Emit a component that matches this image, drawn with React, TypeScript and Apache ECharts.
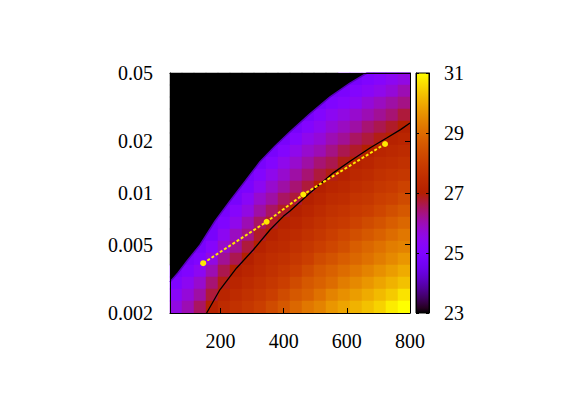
import React, { useEffect, useRef } from "react";
import * as echarts from "echarts";

// ---- data ----
const X_MIN = 40;
const X_MAX = 800;
const Y_MIN = 0.002;
const Y_MAX = 0.05;
const V_MIN = 23;
const V_MAX = 31;

const xTicks = [200, 400, 600, 800];
const yTicks = [0.002, 0.005, 0.01, 0.02, 0.05];
const cbTicks = [23, 25, 27, 29, 31];

// heatmap cell centres
const xCenters = [59, 97, 135, 173, 211, 249, 287, 325, 363, 401, 439, 477, 515, 553, 591, 629, 667, 705, 743, 781];
// bottom to top
const yCenters = [0.00217, 0.00255, 0.00299, 0.00351, 0.00413, 0.00485, 0.00569, 0.00669, 0.00785, 0.00922,
  0.0108, 0.0127, 0.0149, 0.0176, 0.0206, 0.0242, 0.0285, 0.0334, 0.0393, 0.0461];

// field values, rows from top (y = 0.05) to bottom (y = 0.002)
const fieldRows: number[][] = [
  [23, 23, 23, 23, 23, 23, 23, 23, 23, 23, 23, 23, 23, 23, 24.8, 24.8, 25.0, 25.2, 25.4, 25.6],
  [23, 23, 23, 23, 23, 23, 23, 23, 23, 23, 23, 23, 23, 24.8, 24.9, 25.1, 25.3, 25.5, 25.7, 26.0],
  [23, 23, 23, 23, 23, 23, 23, 23, 23, 23, 23, 24.8, 24.8, 25.0, 25.2, 25.4, 25.7, 25.9, 26.1, 26.3],
  [23, 23, 23, 23, 23, 23, 23, 23, 23, 23, 24.8, 24.8, 25.1, 25.4, 25.6, 25.8, 26.0, 26.2, 26.4, 26.7],
  [23, 23, 23, 23, 23, 23, 23, 23, 23, 24.8, 24.8, 25.1, 25.4, 25.7, 25.9, 26.1, 26.4, 26.6, 26.8, 27.0],
  [23, 23, 23, 23, 23, 23, 23, 23, 24.8, 24.8, 25.1, 25.5, 25.7, 26.0, 26.2, 26.5, 26.7, 26.9, 27.1, 27.2],
  [23, 23, 23, 23, 23, 23, 23, 24.8, 24.8, 25.1, 25.5, 25.8, 26.0, 26.3, 26.6, 26.8, 27.0, 27.2, 27.3, 27.4],
  [23, 23, 23, 23, 23, 23, 23, 24.8, 25.1, 25.5, 25.8, 26.1, 26.4, 26.6, 26.9, 27.1, 27.2, 27.4, 27.5, 27.6],
  [23, 23, 23, 23, 23, 23, 24.8, 25.1, 25.5, 25.8, 26.1, 26.4, 26.7, 26.9, 27.1, 27.3, 27.4, 27.6, 27.7, 27.8],
  [23, 23, 23, 23, 23, 24.8, 24.9, 25.4, 25.8, 26.1, 26.4, 26.7, 27.0, 27.2, 27.3, 27.5, 27.6, 27.8, 27.9, 28.1],
  [23, 23, 23, 23, 24.8, 24.8, 25.3, 25.8, 26.1, 26.5, 26.7, 27.0, 27.2, 27.4, 27.5, 27.7, 27.8, 28.0, 28.1, 28.3],
  [23, 23, 23, 23, 24.8, 25.2, 25.6, 26.1, 26.5, 26.8, 27.0, 27.2, 27.4, 27.6, 27.7, 27.9, 28.0, 28.2, 28.4, 28.6],
  [23, 23, 23, 24.8, 25.0, 25.5, 26.0, 26.5, 26.8, 27.1, 27.2, 27.4, 27.6, 27.8, 27.9, 28.1, 28.3, 28.5, 28.7, 28.9],
  [23, 23, 24.8, 24.8, 25.4, 25.9, 26.3, 26.8, 27.1, 27.3, 27.4, 27.6, 27.8, 28.0, 28.2, 28.4, 28.6, 28.8, 29.0, 29.2],
  [23, 24.8, 24.8, 25.2, 25.8, 26.2, 26.7, 27.1, 27.3, 27.4, 27.6, 27.8, 28.0, 28.2, 28.4, 28.7, 28.9, 29.1, 29.3, 29.4],
  [23, 24.8, 25.0, 25.6, 26.2, 26.6, 27.0, 27.3, 27.5, 27.6, 27.8, 28.0, 28.3, 28.5, 28.7, 28.9, 29.1, 29.3, 29.5, 29.7],
  [24.8, 25.0, 25.4, 26.0, 26.6, 27.0, 27.2, 27.4, 27.6, 27.8, 28.0, 28.3, 28.6, 28.8, 29.0, 29.2, 29.4, 29.6, 29.8, 30.0],
  [25.0, 25.4, 25.8, 26.4, 26.9, 27.2, 27.4, 27.6, 27.8, 28.0, 28.3, 28.6, 28.8, 29.0, 29.3, 29.5, 29.7, 29.9, 30.1, 30.3],
  [25.3, 25.7, 26.1, 26.7, 27.2, 27.4, 27.6, 27.8, 28.0, 28.3, 28.6, 28.8, 29.1, 29.4, 29.6, 29.8, 30.0, 30.2, 30.4, 30.7],
  [25.6, 26.0, 26.5, 27.1, 27.4, 27.6, 27.8, 28.0, 28.3, 28.6, 28.9, 29.2, 29.4, 29.7, 29.9, 30.1, 30.3, 30.5, 30.8, 31.0],
];

// edge of the black (undefined) region
const boundaryX = [40, 65, 94, 135, 183, 230, 278, 325, 373, 420, 483, 547, 610, 664, 800];
const boundaryY = [0.00303, 0.00342, 0.00402, 0.00498, 0.00687, 0.00898, 0.0117, 0.0152, 0.0188, 0.0227, 0.0289, 0.0363, 0.0437, 0.05, 0.05];

// black contour line
const contourX = [156, 198, 251, 304, 357, 399, 420, 483, 557, 610, 673, 726, 770, 800];
const contourY = [0.002, 0.00273, 0.00366, 0.00467, 0.00611, 0.00731, 0.00785, 0.01, 0.0131, 0.0153, 0.0183, 0.0209, 0.0234, 0.0256];

// yellow dotted path
const pathX = [145, 346, 462, 721];
const pathY = [0.0039, 0.0068, 0.0098, 0.0193];

// ---- styling helpers ----
const FONT = "Liberation Serif";
const lg = (v: number) => Math.log10(v);

function gnuplotColor(f: number): string {
  const r = Math.sqrt(f);
  const g = f * f * f;
  const b = Math.max(0, Math.sin(2 * Math.PI * f));
  return `rgb(${Math.round(r * 255)},${Math.round(g * 255)},${Math.round(b * 255)})`;
}
const N_STOPS = 48;
const palette = Array.from({ length: N_STOPS + 1 }, (_, i) => gnuplotColor(i / N_STOPS));

export default function App() {
  const ref = useRef<HTMLDivElement>(null);

  useEffect(() => {
    if (!ref.current) return;
    const chart = echarts.init(ref.current, undefined, { renderer: "svg" });

    const heatData: number[][] = [];
    const nRows = fieldRows.length;
    fieldRows.forEach((row, r) => {
      row.forEach((v, c) => heatData.push([c, nRows - 1 - r, v]));
    });

    const yLabel = (v: number) => {
      const t = yTicks.find((tv) => Math.abs(lg(tv) - v) < 1e-6);
      return t === undefined ? "" : String(t);
    };

    const axisLine = { show: true, lineStyle: { color: "#000", width: 1 } };
    const labelStyle = { fontFamily: FONT, fontSize: 20, color: "#000" };

    const option: any = {
      animation: false,
      backgroundColor: "#fff",
      grid: [
        { left: 162, top: 65, width: 240, height: 240, outerBoundsMode: "none" },
        { left: 408, top: 65, width: 13, height: 240, outerBoundsMode: "none" },
      ],
      visualMap: {
        type: "continuous",
        show: false,
        min: V_MIN,
        max: V_MAX,
        dimension: 2,
        seriesIndex: 0,
        inRange: { color: palette },
      },
      xAxis: [
        { type: "category", gridIndex: 0, data: xCenters.map(String), show: false },
        {
          type: "value", gridIndex: 0, min: X_MIN, max: X_MAX, position: "bottom", z: 10,
          axisLine,
          axisTick: { show: true, inside: true, length: 5, customValues: xTicks, lineStyle: { color: "#000" } },
          axisLabel: { customValues: xTicks, ...labelStyle, margin: 18 },
          splitLine: { show: false },
        },
        {
          type: "value", gridIndex: 0, min: X_MIN, max: X_MAX, position: "top", z: 10,
          axisLine,
          axisTick: { show: true, inside: true, length: 5, customValues: xTicks, lineStyle: { color: "#000" } },
          axisLabel: { show: false },
          splitLine: { show: false },
        },
        { type: "category", gridIndex: 1, data: ["cb"], show: false },
      ],
      yAxis: [
        { type: "category", gridIndex: 0, data: yCenters.map(String), show: false },
        {
          type: "value", gridIndex: 0, min: lg(Y_MIN), max: lg(Y_MAX), position: "left", z: 10,
          axisLine,
          axisTick: { show: true, inside: true, length: 5, customValues: yTicks.map(lg), lineStyle: { color: "#000" } },
          axisLabel: { customValues: yTicks.map(lg), formatter: yLabel, ...labelStyle, margin: 17 },
          splitLine: { show: false },
        },
        {
          type: "value", gridIndex: 0, min: lg(Y_MIN), max: lg(Y_MAX), position: "right", z: 10,
          axisLine,
          axisTick: { show: true, inside: true, length: 5, customValues: yTicks.map(lg), lineStyle: { color: "#000" } },
          axisLabel: { show: false },
          splitLine: { show: false },
        },
        {
          type: "value", gridIndex: 1, min: V_MIN, max: V_MAX, position: "right", z: 10,
          axisLine,
          axisTick: { show: true, inside: true, length: 3, customValues: cbTicks, lineStyle: { color: "#000" } },
          axisLabel: { customValues: cbTicks, ...labelStyle, margin: 15 },
          splitLine: { show: false },
        },
        {
          type: "value", gridIndex: 1, min: V_MIN, max: V_MAX, position: "left", z: 10,
          axisLine,
          axisTick: { show: true, inside: true, length: 3, customValues: cbTicks, lineStyle: { color: "#000" } },
          axisLabel: { show: false },
          splitLine: { show: false },
        },
      ],
      series: [
        {
          type: "heatmap",
          xAxisIndex: 0,
          yAxisIndex: 0,
          data: heatData,
          itemStyle: { borderWidth: 0 },
          emphasis: { disabled: true },
          z: 2,
        },
        {
          type: "line",
          xAxisIndex: 1,
          yAxisIndex: 1,
          data: boundaryX.map((x, i) => [x, lg(boundaryY[i])]),
          symbol: "none",
          lineStyle: { color: "#5a00c0", width: 1.5 },
          areaStyle: { color: "#000", opacity: 1, origin: "end" },
          z: 3,
          silent: true,
        },
        {
          type: "line",
          xAxisIndex: 1,
          yAxisIndex: 1,
          data: contourX.map((x, i) => [x, lg(contourY[i])]),
          symbol: "none",
          lineStyle: { color: "#000", width: 1.3 },
          z: 4,
          silent: true,
        },
        {
          type: "line",
          xAxisIndex: 1,
          yAxisIndex: 1,
          data: pathX.map((x, i) => [x, lg(pathY[i])]),
          symbol: "circle",
          symbolSize: 6,
          itemStyle: { color: "#ffe800" },
          lineStyle: { color: "#ffe800", width: 2, type: [3, 2] },
          z: 5,
          silent: true,
        },
        {
          type: "custom",
          xAxisIndex: 3,
          yAxisIndex: 3,
          data: [[0, V_MIN, V_MAX]],
          z: 2,
          silent: true,
          renderItem: (params: any, api: any) => {
            const cs = params.coordSys;
            const yTop = api.coord([0, api.value(2)])[1];
            const yBot = api.coord([0, api.value(1)])[1];
            return {
              type: "rect",
              shape: { x: cs.x, y: yTop, width: cs.width, height: yBot - yTop },
              style: {
                fill: new echarts.graphic.LinearGradient(
                  0, 1, 0, 0,
                  palette.map((c, i) => ({ offset: i / N_STOPS, color: c }))
                ),
                stroke: "#000",
                lineWidth: 1,
              },
            };
          },
        },
      ],
    };

    chart.setOption(option);
    return () => chart.dispose();
  }, []);

  return <div ref={ref} style={{ width: 565, height: 391 }} />;
}
